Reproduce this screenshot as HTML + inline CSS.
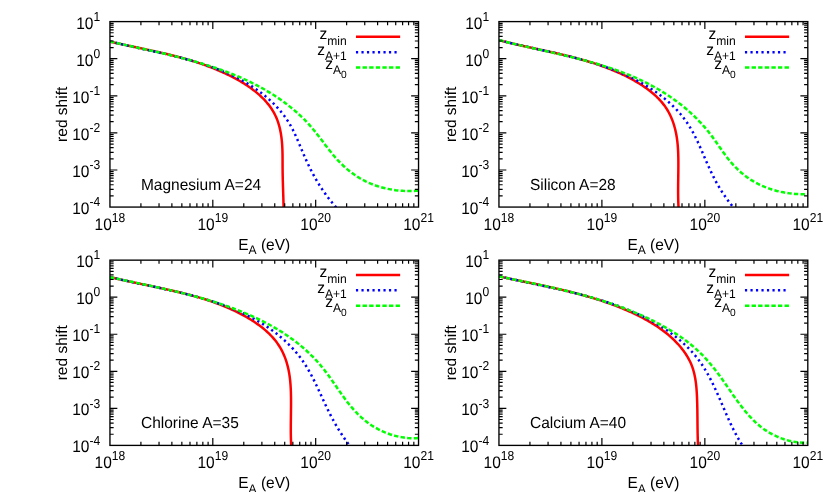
<!DOCTYPE html>
<html><head><meta charset="utf-8"><title>red shift</title>
<style>
html,body{margin:0;padding:0;background:#fff;}
svg{display:block;will-change:transform;}
text{font-family:"Liberation Sans",sans-serif;fill:#000;text-rendering:geometricPrecision;}
</style></head><body>
<svg width="834" height="492" viewBox="0 0 834 492">
<rect width="834" height="492" fill="#fff"/>
<g>
<clipPath id="clip00"><rect x="109.95" y="21.60" width="308.59" height="185.47"/></clipPath>
<g clip-path="url(#clip00)" fill="none" stroke-width="2.5">
<path d="M109.94 41.62 L111.49 41.98 L113.04 42.33 L114.59 42.67 L116.14 43.02 L117.69 43.36 L119.24 43.70 L120.79 44.03 L122.34 44.37 L123.88 44.70 L125.43 45.03 L126.98 45.36 L128.52 45.69 L130.07 46.02 L131.61 46.34 L133.16 46.67 L134.70 47.00 L136.24 47.32 L137.78 47.65 L139.32 47.97 L140.86 48.30 L142.40 48.62 L143.94 48.95 L145.48 49.27 L147.01 49.60 L148.55 49.93 L150.08 50.26 L151.62 50.60 L153.15 50.93 L154.68 51.27 L156.21 51.61 L157.74 51.95 L159.26 52.29 L160.79 52.64 L162.31 52.99 L163.84 53.35 L165.36 53.70 L166.88 54.06 L168.40 54.43 L169.92 54.80 L171.43 55.17 L172.94 55.55 L174.46 55.93 L175.97 56.32 L177.48 56.71 L178.98 57.11 L180.49 57.52 L181.99 57.92 L183.50 58.34 L185.00 58.76 L186.49 59.19 L187.99 59.62 L189.48 60.06 L190.98 60.51 L192.47 60.97 L193.96 61.43 L195.44 61.90 L196.93 62.38 L198.41 62.86 L199.89 63.36 L201.37 63.86 L202.84 64.37 L204.31 64.89 L205.78 65.42 L207.25 65.95 L208.72 66.50 L210.18 67.06 L211.64 67.62 L213.10 68.20 L214.56 68.78 L216.01 69.38 L217.46 69.99 L218.91 70.60 L220.35 71.23 L221.79 71.87 L223.23 72.52 L224.67 73.19 L226.10 73.86 L227.54 74.55 L228.96 75.25 L230.39 75.96 L231.81 76.68 L233.23 77.42 L234.65 78.16 L236.06 78.93 L237.46 79.70 L238.86 80.49 L240.25 81.29 L241.63 82.11 L243.00 82.94 L244.36 83.79 L245.71 84.65 L247.05 85.53 L248.38 86.42 L249.69 87.32 L250.99 88.25 L252.27 89.19 L253.54 90.14 L254.78 91.11 L256.01 92.10 L257.23 93.10 L258.42 94.12 L259.59 95.16 L260.74 96.22 L261.86 97.29 L262.96 98.38 L264.04 99.49 L265.10 100.62 L266.12 101.77 L267.12 102.93 L268.09 104.12 L269.04 105.32 L269.95 106.55 L270.83 107.79 L271.69 109.05 L272.50 110.34 L273.29 111.64 L274.04 112.97 L274.76 114.31 L275.44 115.68 L276.09 117.07 L276.69 118.48 L277.26 119.91 L277.79 121.36 L278.29 122.83 L278.75 124.31 L279.18 125.82 L279.58 127.34 L279.94 128.87 L280.28 130.41 L280.58 131.97 L280.86 133.53 L281.11 135.11 L281.34 136.69 L281.54 138.27 L281.72 139.86 L281.88 141.45 L282.02 143.04 L282.14 144.64 L282.24 146.23 L282.32 147.82 L282.39 149.41 L282.44 150.99 L282.48 152.57 L282.52 154.15 L282.54 155.72 L282.55 157.29 L282.56 158.86 L282.57 160.43 L282.57 162.00 L282.57 163.57 L282.58 165.13 L282.58 166.69 L282.59 168.26 L282.61 169.82 L282.63 171.38 L282.65 172.94 L282.68 174.50 L282.71 176.06 L282.74 177.62 L282.78 179.18 L282.82 180.75 L282.86 182.31 L282.91 183.87 L282.95 185.43 L283.00 187.00 L283.05 188.56 L283.10 190.13 L283.15 191.69 L283.20 193.26 L283.25 194.83 L283.30 196.40 L283.35 197.97 L283.39 199.55 L283.44 201.12 L283.48 202.70 L283.53 204.28 L283.57 205.86 L283.61 207.45 L283.64 209.03" stroke="#ff0000"/>
<path d="M110.29 41.49 L112.33 42.01 L114.38 42.51 L116.43 43.02 L118.49 43.51 L120.56 44.00 L122.63 44.49 L124.71 44.97 L126.80 45.44 L128.89 45.92 L130.99 46.39 L133.09 46.85 L135.20 47.32 L137.31 47.78 L139.42 48.25 L141.54 48.71 L143.66 49.17 L145.78 49.63 L147.91 50.10 L150.04 50.56 L152.17 51.03 L154.30 51.50 L156.44 51.97 L158.57 52.45 L160.71 52.93 L162.84 53.41 L164.98 53.90 L167.12 54.39 L169.25 54.89 L171.38 55.40 L173.52 55.91 L175.65 56.43 L177.78 56.96 L179.90 57.50 L182.03 58.05 L184.15 58.60 L186.27 59.17 L188.38 59.74 L190.49 60.33 L192.60 60.93 L194.70 61.54 L196.80 62.16 L198.89 62.80 L200.98 63.44 L203.06 64.11 L205.13 64.78 L207.20 65.47 L209.26 66.18 L211.32 66.90 L213.37 67.64 L215.40 68.40 L217.44 69.17 L219.46 69.96 L221.47 70.77 L223.48 71.60 L225.47 72.44 L227.46 73.31 L229.44 74.20 L231.40 75.11 L233.36 76.04 L235.30 76.99 L237.23 77.96 L239.15 78.96 L241.06 79.98 L242.96 81.02 L244.84 82.09 L246.72 83.18 L248.57 84.30 L250.42 85.44 L252.25 86.61 L254.06 87.80 L255.86 89.02 L257.63 90.27 L259.39 91.54 L261.13 92.84 L262.84 94.16 L264.54 95.51 L266.21 96.89 L267.85 98.30 L269.47 99.73 L271.07 101.19 L272.63 102.68 L274.17 104.19 L275.68 105.73 L277.15 107.30 L278.60 108.90 L280.01 110.52 L281.39 112.17 L282.73 113.86 L284.04 115.56 L285.31 117.30 L286.54 119.07 L287.73 120.86 L288.88 122.69 L290.00 124.54 L291.07 126.42 L292.09 128.33 L293.09 130.27 L294.05 132.22 L294.98 134.20 L295.89 136.19 L296.78 138.19 L297.65 140.21 L298.51 142.23 L299.36 144.26 L300.21 146.29 L301.05 148.31 L301.90 150.34 L302.76 152.36 L303.62 154.37 L304.49 156.38 L305.37 158.37 L306.27 160.36 L307.18 162.34 L308.10 164.31 L309.04 166.27 L309.99 168.22 L310.97 170.16 L311.96 172.09 L312.98 174.00 L314.02 175.90 L315.07 177.79 L316.15 179.67 L317.25 181.53 L318.37 183.38 L319.52 185.21 L320.69 187.04 L321.87 188.84 L323.09 190.64 L324.32 192.42 L325.58 194.18 L326.86 195.93 L328.16 197.67 L329.49 199.39 L330.85 201.09 L332.22 202.78 L333.63 204.45 L335.05 206.11 L336.51 207.75 L337.98 209.37" stroke="#0000ff" stroke-dasharray="2.2 3.3"/>
<path d="M110.17 41.59 L112.62 42.15 L115.07 42.71 L117.52 43.26 L119.98 43.81 L122.45 44.35 L124.91 44.90 L127.39 45.44 L129.86 45.99 L132.34 46.53 L134.82 47.07 L137.31 47.62 L139.80 48.16 L142.29 48.71 L144.78 49.26 L147.27 49.81 L149.77 50.37 L152.26 50.93 L154.76 51.49 L157.25 52.06 L159.75 52.63 L162.25 53.21 L164.75 53.79 L167.24 54.38 L169.74 54.98 L172.23 55.59 L174.72 56.20 L177.21 56.82 L179.70 57.45 L182.19 58.09 L184.67 58.74 L187.15 59.40 L189.63 60.07 L192.10 60.75 L194.57 61.44 L197.04 62.15 L199.50 62.87 L201.95 63.60 L204.40 64.34 L206.85 65.10 L209.29 65.87 L211.73 66.66 L214.16 67.47 L216.58 68.29 L218.99 69.12 L221.40 69.98 L223.80 70.85 L226.20 71.73 L228.58 72.64 L230.96 73.57 L233.33 74.51 L235.69 75.48 L238.04 76.46 L240.39 77.47 L242.72 78.50 L245.04 79.54 L247.35 80.62 L249.66 81.71 L251.95 82.83 L254.22 83.96 L256.49 85.13 L258.74 86.31 L260.98 87.52 L263.20 88.76 L265.41 90.01 L267.61 91.30 L269.78 92.60 L271.94 93.94 L274.09 95.29 L276.21 96.68 L278.31 98.09 L280.40 99.53 L282.47 100.99 L284.51 102.48 L286.54 104.00 L288.54 105.54 L290.52 107.11 L292.47 108.71 L294.41 110.34 L296.32 112.00 L298.20 113.69 L300.06 115.40 L301.89 117.15 L303.70 118.92 L305.48 120.73 L307.23 122.57 L308.95 124.43 L310.64 126.33 L312.31 128.26 L313.94 130.22 L315.55 132.20 L317.14 134.21 L318.71 136.24 L320.26 138.28 L321.81 140.33 L323.36 142.39 L324.91 144.44 L326.46 146.49 L328.03 148.53 L329.61 150.56 L331.21 152.57 L332.83 154.55 L334.49 156.51 L336.17 158.43 L337.90 160.32 L339.67 162.17 L341.47 163.98 L343.32 165.74 L345.21 167.45 L347.13 169.12 L349.09 170.74 L351.09 172.30 L353.14 173.81 L355.21 175.27 L357.33 176.66 L359.49 178.00 L361.68 179.27 L363.91 180.47 L366.17 181.61 L368.48 182.68 L370.81 183.69 L373.18 184.62 L375.57 185.49 L378.00 186.30 L380.45 187.04 L382.92 187.71 L385.41 188.33 L387.91 188.87 L390.44 189.36 L392.97 189.78 L395.52 190.14 L398.07 190.44 L400.64 190.68 L403.20 190.86 L405.77 190.98 L408.33 191.04 L410.90 191.04 L413.46 190.98 L416.01 190.87 L418.55 190.70" stroke="#00ff00" stroke-dasharray="4.4 2.2"/>
</g>
<path d="M140.91 207.07 v-3.70 M140.91 21.60 v3.70 M159.03 207.07 v-3.70 M159.03 21.60 v3.70 M171.88 207.07 v-3.70 M171.88 21.60 v3.70 M181.85 207.07 v-3.70 M181.85 21.60 v3.70 M189.99 207.07 v-3.70 M189.99 21.60 v3.70 M196.88 207.07 v-3.70 M196.88 21.60 v3.70 M202.84 207.07 v-3.70 M202.84 21.60 v3.70 M208.11 207.07 v-3.70 M208.11 21.60 v3.70 M212.81 207.07 v-7.40 M212.81 21.60 v7.40 M243.78 207.07 v-3.70 M243.78 21.60 v3.70 M261.89 207.07 v-3.70 M261.89 21.60 v3.70 M274.74 207.07 v-3.70 M274.74 21.60 v3.70 M284.71 207.07 v-3.70 M284.71 21.60 v3.70 M292.86 207.07 v-3.70 M292.86 21.60 v3.70 M299.74 207.07 v-3.70 M299.74 21.60 v3.70 M305.71 207.07 v-3.70 M305.71 21.60 v3.70 M310.97 207.07 v-3.70 M310.97 21.60 v3.70 M315.68 207.07 v-7.40 M315.68 21.60 v7.40 M346.64 207.07 v-3.70 M346.64 21.60 v3.70 M364.75 207.07 v-3.70 M364.75 21.60 v3.70 M377.61 207.07 v-3.70 M377.61 21.60 v3.70 M387.58 207.07 v-3.70 M387.58 21.60 v3.70 M395.72 207.07 v-3.70 M395.72 21.60 v3.70 M402.61 207.07 v-3.70 M402.61 21.60 v3.70 M408.57 207.07 v-3.70 M408.57 21.60 v3.70 M413.83 207.07 v-3.70 M413.83 21.60 v3.70 M109.95 47.53 h3.70 M418.54 47.53 h-3.70 M109.95 41.00 h3.70 M418.54 41.00 h-3.70 M109.95 36.36 h3.70 M418.54 36.36 h-3.70 M109.95 32.77 h3.70 M418.54 32.77 h-3.70 M109.95 29.83 h3.70 M418.54 29.83 h-3.70 M109.95 27.35 h3.70 M418.54 27.35 h-3.70 M109.95 25.19 h3.70 M418.54 25.19 h-3.70 M109.95 23.30 h3.70 M418.54 23.30 h-3.70 M109.95 58.69 h7.40 M418.54 58.69 h-7.40 M109.95 84.62 h3.70 M418.54 84.62 h-3.70 M109.95 78.09 h3.70 M418.54 78.09 h-3.70 M109.95 73.46 h3.70 M418.54 73.46 h-3.70 M109.95 69.86 h3.70 M418.54 69.86 h-3.70 M109.95 66.92 h3.70 M418.54 66.92 h-3.70 M109.95 64.44 h3.70 M418.54 64.44 h-3.70 M109.95 62.29 h3.70 M418.54 62.29 h-3.70 M109.95 60.39 h3.70 M418.54 60.39 h-3.70 M109.95 95.79 h7.40 M418.54 95.79 h-7.40 M109.95 121.72 h3.70 M418.54 121.72 h-3.70 M109.95 115.18 h3.70 M418.54 115.18 h-3.70 M109.95 110.55 h3.70 M418.54 110.55 h-3.70 M109.95 106.95 h3.70 M418.54 106.95 h-3.70 M109.95 104.02 h3.70 M418.54 104.02 h-3.70 M109.95 101.53 h3.70 M418.54 101.53 h-3.70 M109.95 99.38 h3.70 M418.54 99.38 h-3.70 M109.95 97.49 h3.70 M418.54 97.49 h-3.70 M109.95 132.88 h7.40 M418.54 132.88 h-7.40 M109.95 158.81 h3.70 M418.54 158.81 h-3.70 M109.95 152.28 h3.70 M418.54 152.28 h-3.70 M109.95 147.64 h3.70 M418.54 147.64 h-3.70 M109.95 144.05 h3.70 M418.54 144.05 h-3.70 M109.95 141.11 h3.70 M418.54 141.11 h-3.70 M109.95 138.63 h3.70 M418.54 138.63 h-3.70 M109.95 136.48 h3.70 M418.54 136.48 h-3.70 M109.95 134.58 h3.70 M418.54 134.58 h-3.70 M109.95 169.98 h7.40 M418.54 169.98 h-7.40 M109.95 195.90 h3.70 M418.54 195.90 h-3.70 M109.95 189.37 h3.70 M418.54 189.37 h-3.70 M109.95 184.74 h3.70 M418.54 184.74 h-3.70 M109.95 181.14 h3.70 M418.54 181.14 h-3.70 M109.95 178.21 h3.70 M418.54 178.21 h-3.70 M109.95 175.72 h3.70 M418.54 175.72 h-3.70 M109.95 173.57 h3.70 M418.54 173.57 h-3.70 M109.95 171.67 h3.70 M418.54 171.67 h-3.70" stroke="#000" stroke-width="1.2" fill="none"/>
<rect x="109.95" y="21.60" width="308.59" height="185.47" fill="none" stroke="#000" stroke-width="1.35"/>
<text transform="translate(100.15 28.50) scale(1 1.075)" font-size="15.50" text-anchor="end">10<tspan font-size="12.09" dy="-7.21">1</tspan></text>
<text transform="translate(100.15 65.59) scale(1 1.075)" font-size="15.50" text-anchor="end">10<tspan font-size="12.09" dy="-7.21">0</tspan></text>
<text transform="translate(100.15 102.69) scale(1 1.075)" font-size="15.50" text-anchor="end">10<tspan font-size="12.09" dy="-7.21">-1</tspan></text>
<text transform="translate(100.15 139.78) scale(1 1.075)" font-size="15.50" text-anchor="end">10<tspan font-size="12.09" dy="-7.21">-2</tspan></text>
<text transform="translate(100.15 176.88) scale(1 1.075)" font-size="15.50" text-anchor="end">10<tspan font-size="12.09" dy="-7.21">-3</tspan></text>
<text transform="translate(100.15 213.97) scale(1 1.075)" font-size="15.50" text-anchor="end">10<tspan font-size="12.09" dy="-7.21">-4</tspan></text>
<text transform="translate(109.95 229.77) scale(1 1.075)" font-size="15.50" text-anchor="middle">10<tspan font-size="12.09" dy="-7.21">18</tspan></text>
<text transform="translate(212.81 229.77) scale(1 1.075)" font-size="15.50" text-anchor="middle">10<tspan font-size="12.09" dy="-7.21">19</tspan></text>
<text transform="translate(315.68 229.77) scale(1 1.075)" font-size="15.50" text-anchor="middle">10<tspan font-size="12.09" dy="-7.21">20</tspan></text>
<text transform="translate(418.54 229.77) scale(1 1.075)" font-size="15.50" text-anchor="middle">10<tspan font-size="12.09" dy="-7.21">21</tspan></text>
<text transform="translate(264.25 249.87) scale(1 1.030)" font-size="15.50" text-anchor="middle">E<tspan font-size="12.09" dy="4.37">A</tspan><tspan dy="-4.37"> (eV)</tspan></text>
<text transform="translate(67.10 114.33) rotate(-90) scale(1 1.000)" font-size="15.50" text-anchor="middle">red shift</text>
<text transform="translate(140.95 189.90) scale(1 1.030)" font-size="15.50">Magnesium A=24</text>
<text transform="translate(346.75 39.20) scale(1 1.030)" font-size="15.50" text-anchor="end">z<tspan font-size="12.09" dy="5.15">min</tspan></text>
<path d="M355.95 36.70 H400.15" stroke="#ff0000" stroke-width="2.5" fill="none"/>
<text transform="translate(346.75 54.65) scale(1 1.030)" font-size="15.50" text-anchor="end">z<tspan font-size="12.09" dy="5.15">A+1</tspan></text>
<path d="M355.95 52.15 H396.95" stroke="#0000ff" stroke-width="2.5" stroke-dasharray="2.2 3.3" fill="none"/>
<text transform="translate(346.75 68.90) scale(1 1.030)" font-size="15.50" text-anchor="end">z<tspan font-size="12.09" dy="5.15">A</tspan><tspan font-size="10.23" dy="3.40">0</tspan></text>
<path d="M355.95 67.60 H400.15" stroke="#00ff00" stroke-width="2.5" stroke-dasharray="4.4 2.2" fill="none"/>
</g>
<g>
<clipPath id="clip01"><rect x="498.95" y="21.60" width="308.85" height="185.47"/></clipPath>
<g clip-path="url(#clip01)" fill="none" stroke-width="2.5">
<path d="M499.32 40.26 L500.86 40.66 L502.40 41.05 L503.94 41.45 L505.48 41.83 L507.02 42.21 L508.57 42.59 L510.12 42.96 L511.67 43.33 L513.22 43.70 L514.78 44.06 L516.33 44.42 L517.89 44.78 L519.45 45.13 L521.01 45.48 L522.57 45.83 L524.14 46.18 L525.70 46.53 L527.27 46.87 L528.83 47.21 L530.40 47.56 L531.97 47.90 L533.54 48.24 L535.11 48.58 L536.68 48.92 L538.25 49.26 L539.82 49.60 L541.39 49.94 L542.96 50.28 L544.53 50.62 L546.10 50.97 L547.67 51.31 L549.24 51.66 L550.81 52.01 L552.38 52.36 L553.95 52.71 L555.52 53.07 L557.09 53.42 L558.66 53.78 L560.23 54.15 L561.79 54.52 L563.36 54.89 L564.92 55.26 L566.48 55.64 L568.04 56.02 L569.60 56.41 L571.16 56.80 L572.72 57.20 L574.27 57.60 L575.83 58.01 L577.38 58.43 L578.93 58.84 L580.47 59.27 L582.02 59.70 L583.56 60.14 L585.10 60.58 L586.64 61.04 L588.18 61.50 L589.71 61.96 L591.24 62.44 L592.77 62.92 L594.30 63.41 L595.82 63.91 L597.34 64.41 L598.85 64.93 L600.37 65.45 L601.87 65.99 L603.38 66.53 L604.88 67.08 L606.38 67.64 L607.88 68.22 L609.37 68.80 L610.86 69.39 L612.34 70.00 L613.82 70.61 L615.30 71.24 L616.77 71.87 L618.24 72.52 L619.70 73.18 L621.16 73.86 L622.61 74.54 L624.06 75.24 L625.51 75.95 L626.95 76.67 L628.38 77.41 L629.81 78.16 L631.24 78.92 L632.65 79.70 L634.07 80.49 L635.48 81.30 L636.88 82.12 L638.27 82.95 L639.65 83.81 L641.03 84.67 L642.39 85.56 L643.73 86.45 L645.07 87.37 L646.39 88.30 L647.69 89.26 L648.98 90.22 L650.25 91.21 L651.50 92.22 L652.73 93.24 L653.94 94.29 L655.12 95.35 L656.29 96.43 L657.42 97.54 L658.54 98.66 L659.62 99.81 L660.68 100.97 L661.71 102.16 L662.71 103.37 L663.68 104.61 L664.62 105.86 L665.53 107.14 L666.40 108.44 L667.23 109.77 L668.03 111.12 L668.80 112.49 L669.53 113.88 L670.22 115.30 L670.89 116.73 L671.52 118.18 L672.11 119.65 L672.68 121.14 L673.21 122.64 L673.71 124.16 L674.18 125.68 L674.62 127.22 L675.04 128.78 L675.42 130.34 L675.77 131.91 L676.10 133.49 L676.39 135.07 L676.67 136.66 L676.91 138.26 L677.13 139.86 L677.33 141.47 L677.51 143.08 L677.66 144.70 L677.80 146.31 L677.92 147.93 L678.02 149.56 L678.11 151.18 L678.18 152.80 L678.23 154.43 L678.28 156.05 L678.32 157.68 L678.34 159.30 L678.36 160.92 L678.37 162.54 L678.37 164.16 L678.37 165.77 L678.36 167.39 L678.35 169.00 L678.34 170.61 L678.32 172.22 L678.30 173.82 L678.28 175.43 L678.25 177.03 L678.23 178.63 L678.21 180.23 L678.18 181.83 L678.16 183.43 L678.15 185.02 L678.13 186.62 L678.12 188.22 L678.11 189.81 L678.11 191.40 L678.12 193.00 L678.13 194.59 L678.15 196.18 L678.17 197.78 L678.21 199.37 L678.25 200.96 L678.30 202.55 L678.37 204.14 L678.44 205.74 L678.53 207.33 L678.63 208.92" stroke="#ff0000"/>
<path d="M499.43 40.32 L501.54 40.85 L503.65 41.37 L505.77 41.89 L507.90 42.40 L510.03 42.90 L512.17 43.40 L514.31 43.90 L516.46 44.39 L518.61 44.88 L520.77 45.37 L522.93 45.85 L525.10 46.33 L527.26 46.81 L529.44 47.29 L531.61 47.77 L533.79 48.24 L535.97 48.72 L538.15 49.20 L540.33 49.68 L542.52 50.16 L544.70 50.64 L546.89 51.13 L549.08 51.62 L551.27 52.11 L553.46 52.61 L555.65 53.11 L557.83 53.62 L560.02 54.13 L562.21 54.64 L564.39 55.17 L566.58 55.70 L568.76 56.24 L570.94 56.78 L573.12 57.33 L575.29 57.90 L577.47 58.47 L579.63 59.05 L581.80 59.64 L583.96 60.24 L586.12 60.85 L588.27 61.47 L590.42 62.11 L592.57 62.76 L594.71 63.42 L596.84 64.09 L598.97 64.78 L601.09 65.48 L603.20 66.19 L605.31 66.92 L607.42 67.67 L609.51 68.43 L611.60 69.21 L613.68 70.01 L615.75 70.82 L617.82 71.65 L619.87 72.50 L621.92 73.37 L623.96 74.26 L625.98 75.17 L628.00 76.10 L630.01 77.04 L632.01 78.01 L634.00 79.01 L635.98 80.02 L637.94 81.05 L639.90 82.11 L641.84 83.20 L643.77 84.30 L645.69 85.43 L647.60 86.59 L649.50 87.77 L651.38 88.97 L653.24 90.20 L655.09 91.46 L656.92 92.74 L658.73 94.05 L660.52 95.39 L662.29 96.75 L664.03 98.13 L665.76 99.55 L667.45 100.99 L669.13 102.46 L670.77 103.95 L672.39 105.47 L673.98 107.02 L675.53 108.60 L677.06 110.20 L678.55 111.83 L680.01 113.49 L681.44 115.18 L682.82 116.90 L684.17 118.64 L685.48 120.41 L686.76 122.21 L687.99 124.05 L689.18 125.90 L690.33 127.79 L691.45 129.70 L692.54 131.63 L693.60 133.58 L694.63 135.55 L695.63 137.54 L696.61 139.55 L697.58 141.57 L698.52 143.60 L699.45 145.64 L700.37 147.69 L701.27 149.75 L702.17 151.82 L703.06 153.88 L703.96 155.95 L704.85 158.02 L705.74 160.09 L706.63 162.16 L707.54 164.22 L708.45 166.27 L709.38 168.32 L710.31 170.35 L711.27 172.37 L712.25 174.38 L713.24 176.38 L714.26 178.36 L715.29 180.33 L716.35 182.28 L717.43 184.22 L718.54 186.14 L719.67 188.05 L720.83 189.94 L722.01 191.82 L723.22 193.68 L724.46 195.52 L725.72 197.35 L727.02 199.16 L728.34 200.95 L729.69 202.73 L731.08 204.49 L732.50 206.23 L733.95 207.95 L735.44 209.65" stroke="#0000ff" stroke-dasharray="2.2 3.3"/>
<path d="M499.48 40.21 L501.90 40.84 L504.33 41.46 L506.77 42.07 L509.21 42.67 L511.67 43.27 L514.13 43.86 L516.59 44.45 L519.06 45.03 L521.54 45.60 L524.02 46.18 L526.51 46.75 L529.01 47.31 L531.50 47.88 L534.00 48.44 L536.51 49.00 L539.02 49.56 L541.53 50.13 L544.04 50.69 L546.55 51.26 L549.07 51.82 L551.59 52.39 L554.11 52.97 L556.63 53.54 L559.15 54.13 L561.67 54.71 L564.19 55.31 L566.71 55.91 L569.22 56.51 L571.74 57.13 L574.25 57.75 L576.77 58.38 L579.28 59.02 L581.78 59.67 L584.28 60.33 L586.78 61.00 L589.28 61.68 L591.77 62.38 L594.26 63.09 L596.74 63.81 L599.21 64.55 L601.68 65.30 L604.15 66.07 L606.60 66.85 L609.05 67.65 L611.50 68.46 L613.93 69.30 L616.36 70.15 L618.78 71.02 L621.19 71.91 L623.59 72.82 L625.98 73.75 L628.36 74.70 L630.73 75.68 L633.09 76.68 L635.44 77.70 L637.78 78.74 L640.11 79.81 L642.42 80.90 L644.72 82.02 L647.01 83.16 L649.29 84.33 L651.55 85.53 L653.80 86.76 L656.04 88.01 L658.25 89.28 L660.46 90.58 L662.64 91.91 L664.81 93.27 L666.96 94.65 L669.09 96.07 L671.21 97.50 L673.30 98.97 L675.38 100.46 L677.43 101.98 L679.46 103.52 L681.48 105.10 L683.47 106.70 L685.43 108.33 L687.38 109.99 L689.30 111.67 L691.19 113.38 L693.06 115.12 L694.91 116.89 L696.73 118.69 L698.52 120.51 L700.29 122.36 L702.03 124.24 L703.74 126.15 L705.42 128.09 L707.07 130.05 L708.69 132.05 L710.28 134.07 L711.85 136.12 L713.38 138.20 L714.89 140.30 L716.38 142.42 L717.86 144.54 L719.33 146.67 L720.81 148.80 L722.30 150.92 L723.80 153.02 L725.32 155.11 L726.87 157.17 L728.45 159.20 L730.08 161.19 L731.74 163.15 L733.45 165.05 L735.21 166.91 L737.01 168.73 L738.86 170.49 L740.75 172.19 L742.69 173.84 L744.68 175.43 L746.72 176.97 L748.81 178.43 L750.95 179.83 L753.13 181.17 L755.36 182.44 L757.63 183.65 L759.93 184.78 L762.27 185.86 L764.65 186.87 L767.05 187.81 L769.49 188.69 L771.94 189.50 L774.43 190.25 L776.93 190.93 L779.44 191.55 L781.97 192.10 L784.52 192.59 L787.07 193.01 L789.63 193.37 L792.19 193.66 L794.75 193.89 L797.31 194.05 L799.87 194.15 L802.42 194.18 L804.96 194.15 L807.48 194.05" stroke="#00ff00" stroke-dasharray="4.4 2.2"/>
</g>
<path d="M529.94 207.07 v-3.70 M529.94 21.60 v3.70 M548.07 207.07 v-3.70 M548.07 21.60 v3.70 M560.93 207.07 v-3.70 M560.93 21.60 v3.70 M570.91 207.07 v-3.70 M570.91 21.60 v3.70 M579.06 207.07 v-3.70 M579.06 21.60 v3.70 M585.95 207.07 v-3.70 M585.95 21.60 v3.70 M591.92 207.07 v-3.70 M591.92 21.60 v3.70 M597.19 207.07 v-3.70 M597.19 21.60 v3.70 M601.90 207.07 v-7.40 M601.90 21.60 v7.40 M632.89 207.07 v-3.70 M632.89 21.60 v3.70 M651.02 207.07 v-3.70 M651.02 21.60 v3.70 M663.88 207.07 v-3.70 M663.88 21.60 v3.70 M673.86 207.07 v-3.70 M673.86 21.60 v3.70 M682.01 207.07 v-3.70 M682.01 21.60 v3.70 M688.90 207.07 v-3.70 M688.90 21.60 v3.70 M694.87 207.07 v-3.70 M694.87 21.60 v3.70 M700.14 207.07 v-3.70 M700.14 21.60 v3.70 M704.85 207.07 v-7.40 M704.85 21.60 v7.40 M735.84 207.07 v-3.70 M735.84 21.60 v3.70 M753.97 207.07 v-3.70 M753.97 21.60 v3.70 M766.83 207.07 v-3.70 M766.83 21.60 v3.70 M776.81 207.07 v-3.70 M776.81 21.60 v3.70 M784.96 207.07 v-3.70 M784.96 21.60 v3.70 M791.85 207.07 v-3.70 M791.85 21.60 v3.70 M797.82 207.07 v-3.70 M797.82 21.60 v3.70 M803.09 207.07 v-3.70 M803.09 21.60 v3.70 M498.95 47.53 h3.70 M807.80 47.53 h-3.70 M498.95 41.00 h3.70 M807.80 41.00 h-3.70 M498.95 36.36 h3.70 M807.80 36.36 h-3.70 M498.95 32.77 h3.70 M807.80 32.77 h-3.70 M498.95 29.83 h3.70 M807.80 29.83 h-3.70 M498.95 27.35 h3.70 M807.80 27.35 h-3.70 M498.95 25.19 h3.70 M807.80 25.19 h-3.70 M498.95 23.30 h3.70 M807.80 23.30 h-3.70 M498.95 58.69 h7.40 M807.80 58.69 h-7.40 M498.95 84.62 h3.70 M807.80 84.62 h-3.70 M498.95 78.09 h3.70 M807.80 78.09 h-3.70 M498.95 73.46 h3.70 M807.80 73.46 h-3.70 M498.95 69.86 h3.70 M807.80 69.86 h-3.70 M498.95 66.92 h3.70 M807.80 66.92 h-3.70 M498.95 64.44 h3.70 M807.80 64.44 h-3.70 M498.95 62.29 h3.70 M807.80 62.29 h-3.70 M498.95 60.39 h3.70 M807.80 60.39 h-3.70 M498.95 95.79 h7.40 M807.80 95.79 h-7.40 M498.95 121.72 h3.70 M807.80 121.72 h-3.70 M498.95 115.18 h3.70 M807.80 115.18 h-3.70 M498.95 110.55 h3.70 M807.80 110.55 h-3.70 M498.95 106.95 h3.70 M807.80 106.95 h-3.70 M498.95 104.02 h3.70 M807.80 104.02 h-3.70 M498.95 101.53 h3.70 M807.80 101.53 h-3.70 M498.95 99.38 h3.70 M807.80 99.38 h-3.70 M498.95 97.49 h3.70 M807.80 97.49 h-3.70 M498.95 132.88 h7.40 M807.80 132.88 h-7.40 M498.95 158.81 h3.70 M807.80 158.81 h-3.70 M498.95 152.28 h3.70 M807.80 152.28 h-3.70 M498.95 147.64 h3.70 M807.80 147.64 h-3.70 M498.95 144.05 h3.70 M807.80 144.05 h-3.70 M498.95 141.11 h3.70 M807.80 141.11 h-3.70 M498.95 138.63 h3.70 M807.80 138.63 h-3.70 M498.95 136.48 h3.70 M807.80 136.48 h-3.70 M498.95 134.58 h3.70 M807.80 134.58 h-3.70 M498.95 169.98 h7.40 M807.80 169.98 h-7.40 M498.95 195.90 h3.70 M807.80 195.90 h-3.70 M498.95 189.37 h3.70 M807.80 189.37 h-3.70 M498.95 184.74 h3.70 M807.80 184.74 h-3.70 M498.95 181.14 h3.70 M807.80 181.14 h-3.70 M498.95 178.21 h3.70 M807.80 178.21 h-3.70 M498.95 175.72 h3.70 M807.80 175.72 h-3.70 M498.95 173.57 h3.70 M807.80 173.57 h-3.70 M498.95 171.67 h3.70 M807.80 171.67 h-3.70" stroke="#000" stroke-width="1.2" fill="none"/>
<rect x="498.95" y="21.60" width="308.85" height="185.47" fill="none" stroke="#000" stroke-width="1.35"/>
<text transform="translate(489.15 28.50) scale(1 1.075)" font-size="15.50" text-anchor="end">10<tspan font-size="12.09" dy="-7.21">1</tspan></text>
<text transform="translate(489.15 65.59) scale(1 1.075)" font-size="15.50" text-anchor="end">10<tspan font-size="12.09" dy="-7.21">0</tspan></text>
<text transform="translate(489.15 102.69) scale(1 1.075)" font-size="15.50" text-anchor="end">10<tspan font-size="12.09" dy="-7.21">-1</tspan></text>
<text transform="translate(489.15 139.78) scale(1 1.075)" font-size="15.50" text-anchor="end">10<tspan font-size="12.09" dy="-7.21">-2</tspan></text>
<text transform="translate(489.15 176.88) scale(1 1.075)" font-size="15.50" text-anchor="end">10<tspan font-size="12.09" dy="-7.21">-3</tspan></text>
<text transform="translate(489.15 213.97) scale(1 1.075)" font-size="15.50" text-anchor="end">10<tspan font-size="12.09" dy="-7.21">-4</tspan></text>
<text transform="translate(498.95 229.77) scale(1 1.075)" font-size="15.50" text-anchor="middle">10<tspan font-size="12.09" dy="-7.21">18</tspan></text>
<text transform="translate(601.90 229.77) scale(1 1.075)" font-size="15.50" text-anchor="middle">10<tspan font-size="12.09" dy="-7.21">19</tspan></text>
<text transform="translate(704.85 229.77) scale(1 1.075)" font-size="15.50" text-anchor="middle">10<tspan font-size="12.09" dy="-7.21">20</tspan></text>
<text transform="translate(807.80 229.77) scale(1 1.075)" font-size="15.50" text-anchor="middle">10<tspan font-size="12.09" dy="-7.21">21</tspan></text>
<text transform="translate(653.38 249.87) scale(1 1.030)" font-size="15.50" text-anchor="middle">E<tspan font-size="12.09" dy="4.37">A</tspan><tspan dy="-4.37"> (eV)</tspan></text>
<text transform="translate(456.10 114.33) rotate(-90) scale(1 1.000)" font-size="15.50" text-anchor="middle">red shift</text>
<text transform="translate(529.95 189.90) scale(1 1.030)" font-size="15.50">Silicon A=28</text>
<text transform="translate(735.75 39.20) scale(1 1.030)" font-size="15.50" text-anchor="end">z<tspan font-size="12.09" dy="5.15">min</tspan></text>
<path d="M744.95 36.70 H789.15" stroke="#ff0000" stroke-width="2.5" fill="none"/>
<text transform="translate(735.75 54.65) scale(1 1.030)" font-size="15.50" text-anchor="end">z<tspan font-size="12.09" dy="5.15">A+1</tspan></text>
<path d="M744.95 52.15 H785.95" stroke="#0000ff" stroke-width="2.5" stroke-dasharray="2.2 3.3" fill="none"/>
<text transform="translate(735.75 68.90) scale(1 1.030)" font-size="15.50" text-anchor="end">z<tspan font-size="12.09" dy="5.15">A</tspan><tspan font-size="10.23" dy="3.40">0</tspan></text>
<path d="M744.95 67.60 H789.15" stroke="#00ff00" stroke-width="2.5" stroke-dasharray="4.4 2.2" fill="none"/>
</g>
<g>
<clipPath id="clip10"><rect x="109.95" y="260.15" width="308.59" height="185.25"/></clipPath>
<g clip-path="url(#clip10)" fill="none" stroke-width="2.5">
<path d="M110.12 277.04 L111.68 277.43 L113.24 277.81 L114.81 278.20 L116.38 278.57 L117.95 278.94 L119.52 279.31 L121.09 279.67 L122.67 280.03 L124.25 280.39 L125.83 280.74 L127.41 281.09 L128.99 281.44 L130.58 281.78 L132.17 282.13 L133.75 282.47 L135.34 282.80 L136.93 283.14 L138.52 283.47 L140.11 283.81 L141.71 284.14 L143.30 284.47 L144.89 284.80 L146.49 285.13 L148.08 285.46 L149.68 285.79 L151.27 286.13 L152.87 286.46 L154.46 286.79 L156.06 287.12 L157.65 287.46 L159.25 287.80 L160.84 288.14 L162.44 288.48 L164.03 288.82 L165.62 289.16 L167.22 289.51 L168.81 289.86 L170.40 290.22 L171.99 290.58 L173.58 290.94 L175.17 291.30 L176.75 291.67 L178.34 292.05 L179.92 292.43 L181.50 292.81 L183.08 293.20 L184.66 293.59 L186.24 293.99 L187.82 294.40 L189.39 294.81 L190.96 295.23 L192.53 295.65 L194.10 296.09 L195.66 296.52 L197.22 296.97 L198.78 297.42 L200.34 297.88 L201.89 298.35 L203.44 298.83 L204.99 299.31 L206.54 299.81 L208.08 300.31 L209.62 300.82 L211.16 301.34 L212.69 301.87 L214.22 302.41 L215.74 302.96 L217.27 303.52 L218.79 304.10 L220.30 304.68 L221.81 305.27 L223.32 305.87 L224.82 306.49 L226.32 307.12 L227.81 307.76 L229.30 308.41 L230.79 309.07 L232.27 309.75 L233.74 310.44 L235.22 311.14 L236.68 311.86 L238.14 312.59 L239.60 313.33 L241.05 314.09 L242.50 314.86 L243.94 315.64 L245.37 316.44 L246.80 317.26 L248.22 318.09 L249.64 318.94 L251.04 319.80 L252.43 320.68 L253.81 321.57 L255.18 322.48 L256.54 323.41 L257.88 324.36 L259.20 325.32 L260.51 326.30 L261.80 327.30 L263.07 328.32 L264.32 329.36 L265.56 330.41 L266.76 331.49 L267.95 332.58 L269.11 333.70 L270.25 334.83 L271.36 335.99 L272.45 337.16 L273.51 338.36 L274.54 339.58 L275.54 340.82 L276.50 342.08 L277.44 343.36 L278.34 344.67 L279.21 345.99 L280.05 347.34 L280.85 348.72 L281.61 350.12 L282.34 351.53 L283.03 352.97 L283.69 354.43 L284.32 355.91 L284.91 357.40 L285.47 358.91 L286.00 360.43 L286.49 361.97 L286.96 363.52 L287.39 365.09 L287.80 366.66 L288.17 368.25 L288.52 369.84 L288.84 371.44 L289.13 373.05 L289.39 374.66 L289.63 376.28 L289.85 377.91 L290.04 379.54 L290.21 381.18 L290.36 382.81 L290.49 384.45 L290.61 386.10 L290.70 387.74 L290.78 389.39 L290.85 391.04 L290.91 392.69 L290.95 394.34 L290.98 395.98 L291.01 397.63 L291.02 399.27 L291.03 400.91 L291.03 402.55 L291.03 404.19 L291.03 405.83 L291.01 407.46 L291.00 409.09 L290.98 410.72 L290.96 412.35 L290.94 413.98 L290.92 415.60 L290.90 417.22 L290.88 418.85 L290.86 420.47 L290.84 422.09 L290.83 423.70 L290.81 425.32 L290.81 426.94 L290.80 428.55 L290.80 430.17 L290.81 431.78 L290.82 433.40 L290.84 435.01 L290.87 436.62 L290.91 438.24 L290.96 439.85 L291.01 441.46 L291.08 443.08 L291.16 444.69 L291.24 446.30 L291.35 447.92" stroke="#ff0000"/>
<path d="M110.34 277.03 L112.46 277.56 L114.60 278.09 L116.74 278.60 L118.90 279.12 L121.05 279.62 L123.22 280.12 L125.39 280.61 L127.57 281.10 L129.76 281.59 L131.95 282.07 L134.15 282.55 L136.35 283.03 L138.55 283.50 L140.76 283.98 L142.98 284.45 L145.20 284.92 L147.42 285.39 L149.65 285.86 L151.87 286.34 L154.10 286.81 L156.34 287.29 L158.57 287.77 L160.81 288.25 L163.04 288.73 L165.28 289.22 L167.52 289.71 L169.76 290.21 L172.00 290.72 L174.23 291.23 L176.47 291.74 L178.71 292.26 L180.94 292.79 L183.17 293.33 L185.40 293.88 L187.63 294.43 L189.86 295.00 L192.08 295.57 L194.30 296.15 L196.51 296.75 L198.72 297.35 L200.93 297.97 L203.13 298.60 L205.33 299.25 L207.52 299.90 L209.70 300.57 L211.88 301.26 L214.06 301.95 L216.22 302.67 L218.38 303.40 L220.53 304.14 L222.68 304.91 L224.82 305.69 L226.94 306.48 L229.06 307.30 L231.17 308.13 L233.27 308.99 L235.36 309.86 L237.45 310.75 L239.52 311.67 L241.58 312.60 L243.63 313.56 L245.66 314.54 L247.69 315.54 L249.70 316.56 L251.71 317.61 L253.70 318.68 L255.67 319.78 L257.64 320.90 L259.59 322.05 L261.52 323.22 L263.44 324.42 L265.35 325.64 L267.24 326.90 L269.12 328.18 L270.97 329.48 L272.81 330.82 L274.63 332.18 L276.43 333.57 L278.20 334.98 L279.96 336.42 L281.69 337.89 L283.40 339.38 L285.08 340.90 L286.73 342.45 L288.36 344.03 L289.96 345.63 L291.53 347.25 L293.07 348.91 L294.58 350.59 L296.06 352.30 L297.50 354.03 L298.91 355.79 L300.29 357.58 L301.63 359.39 L302.93 361.23 L304.19 363.10 L305.42 364.99 L306.62 366.91 L307.79 368.84 L308.92 370.80 L310.03 372.78 L311.12 374.77 L312.18 376.78 L313.22 378.80 L314.24 380.84 L315.25 382.89 L316.24 384.94 L317.22 387.01 L318.19 389.08 L319.16 391.16 L320.12 393.24 L321.07 395.32 L322.03 397.40 L322.98 399.48 L323.94 401.56 L324.91 403.64 L325.88 405.71 L326.86 407.77 L327.86 409.82 L328.87 411.86 L329.89 413.89 L330.93 415.91 L331.99 417.92 L333.07 419.92 L334.16 421.90 L335.27 423.87 L336.41 425.83 L337.56 427.78 L338.73 429.71 L339.93 431.64 L341.15 433.54 L342.39 435.44 L343.66 437.32 L344.95 439.19 L346.26 441.04 L347.60 442.88 L348.97 444.70 L350.37 446.51 L351.79 448.30" stroke="#0000ff" stroke-dasharray="2.2 3.3"/>
<path d="M110.14 277.18 L112.64 277.73 L115.15 278.28 L117.66 278.83 L120.17 279.37 L122.69 279.91 L125.21 280.45 L127.74 280.99 L130.27 281.52 L132.80 282.06 L135.33 282.60 L137.87 283.13 L140.40 283.67 L142.94 284.21 L145.48 284.75 L148.03 285.30 L150.57 285.84 L153.12 286.39 L155.66 286.94 L158.21 287.50 L160.75 288.06 L163.30 288.63 L165.84 289.20 L168.39 289.78 L170.93 290.37 L173.47 290.96 L176.01 291.56 L178.55 292.17 L181.09 292.78 L183.62 293.41 L186.15 294.04 L188.68 294.69 L191.21 295.34 L193.73 296.01 L196.25 296.68 L198.77 297.37 L201.28 298.07 L203.79 298.78 L206.29 299.51 L208.79 300.25 L211.28 301.00 L213.77 301.77 L216.26 302.55 L218.73 303.35 L221.21 304.16 L223.67 304.99 L226.13 305.84 L228.58 306.71 L231.03 307.59 L233.46 308.49 L235.89 309.41 L238.32 310.35 L240.73 311.30 L243.14 312.28 L245.53 313.28 L247.92 314.30 L250.30 315.34 L252.67 316.41 L255.04 317.49 L257.39 318.60 L259.73 319.73 L262.06 320.89 L264.38 322.07 L266.68 323.27 L268.98 324.50 L271.25 325.75 L273.52 327.03 L275.76 328.34 L278.00 329.67 L280.21 331.03 L282.40 332.41 L284.58 333.82 L286.74 335.26 L288.87 336.72 L290.99 338.22 L293.08 339.74 L295.15 341.29 L297.20 342.87 L299.22 344.48 L301.22 346.12 L303.19 347.79 L305.14 349.49 L307.06 351.22 L308.95 352.99 L310.81 354.78 L312.64 356.61 L314.44 358.46 L316.21 360.36 L317.95 362.28 L319.65 364.24 L321.32 366.23 L322.96 368.25 L324.57 370.30 L326.15 372.38 L327.71 374.48 L329.25 376.59 L330.77 378.73 L332.29 380.87 L333.79 383.02 L335.29 385.18 L336.78 387.33 L338.28 389.49 L339.78 391.63 L341.29 393.77 L342.82 395.89 L344.35 398.00 L345.91 400.08 L347.49 402.15 L349.09 404.18 L350.72 406.18 L352.39 408.15 L354.09 410.08 L355.83 411.97 L357.61 413.81 L359.44 415.60 L361.31 417.34 L363.24 419.03 L365.21 420.66 L367.24 422.23 L369.30 423.74 L371.42 425.19 L373.58 426.57 L375.78 427.88 L378.03 429.13 L380.31 430.30 L382.64 431.41 L385.01 432.43 L387.42 433.39 L389.86 434.26 L392.35 435.05 L394.87 435.76 L397.42 436.38 L400.01 436.91 L402.64 437.36 L405.30 437.72 L407.99 437.98 L410.71 438.14 L413.46 438.21 L416.24 438.19 L419.05 438.06" stroke="#00ff00" stroke-dasharray="4.4 2.2"/>
</g>
<path d="M140.91 445.40 v-3.70 M140.91 260.15 v3.70 M159.03 445.40 v-3.70 M159.03 260.15 v3.70 M171.88 445.40 v-3.70 M171.88 260.15 v3.70 M181.85 445.40 v-3.70 M181.85 260.15 v3.70 M189.99 445.40 v-3.70 M189.99 260.15 v3.70 M196.88 445.40 v-3.70 M196.88 260.15 v3.70 M202.84 445.40 v-3.70 M202.84 260.15 v3.70 M208.11 445.40 v-3.70 M208.11 260.15 v3.70 M212.81 445.40 v-7.40 M212.81 260.15 v7.40 M243.78 445.40 v-3.70 M243.78 260.15 v3.70 M261.89 445.40 v-3.70 M261.89 260.15 v3.70 M274.74 445.40 v-3.70 M274.74 260.15 v3.70 M284.71 445.40 v-3.70 M284.71 260.15 v3.70 M292.86 445.40 v-3.70 M292.86 260.15 v3.70 M299.74 445.40 v-3.70 M299.74 260.15 v3.70 M305.71 445.40 v-3.70 M305.71 260.15 v3.70 M310.97 445.40 v-3.70 M310.97 260.15 v3.70 M315.68 445.40 v-7.40 M315.68 260.15 v7.40 M346.64 445.40 v-3.70 M346.64 260.15 v3.70 M364.75 445.40 v-3.70 M364.75 260.15 v3.70 M377.61 445.40 v-3.70 M377.61 260.15 v3.70 M387.58 445.40 v-3.70 M387.58 260.15 v3.70 M395.72 445.40 v-3.70 M395.72 260.15 v3.70 M402.61 445.40 v-3.70 M402.61 260.15 v3.70 M408.57 445.40 v-3.70 M408.57 260.15 v3.70 M413.83 445.40 v-3.70 M413.83 260.15 v3.70 M109.95 286.05 h3.70 M418.54 286.05 h-3.70 M109.95 279.52 h3.70 M418.54 279.52 h-3.70 M109.95 274.89 h3.70 M418.54 274.89 h-3.70 M109.95 271.30 h3.70 M418.54 271.30 h-3.70 M109.95 268.37 h3.70 M418.54 268.37 h-3.70 M109.95 265.89 h3.70 M418.54 265.89 h-3.70 M109.95 263.74 h3.70 M418.54 263.74 h-3.70 M109.95 261.85 h3.70 M418.54 261.85 h-3.70 M109.95 297.20 h7.40 M418.54 297.20 h-7.40 M109.95 323.10 h3.70 M418.54 323.10 h-3.70 M109.95 316.57 h3.70 M418.54 316.57 h-3.70 M109.95 311.94 h3.70 M418.54 311.94 h-3.70 M109.95 308.35 h3.70 M418.54 308.35 h-3.70 M109.95 305.42 h3.70 M418.54 305.42 h-3.70 M109.95 302.94 h3.70 M418.54 302.94 h-3.70 M109.95 300.79 h3.70 M418.54 300.79 h-3.70 M109.95 298.90 h3.70 M418.54 298.90 h-3.70 M109.95 334.25 h7.40 M418.54 334.25 h-7.40 M109.95 360.15 h3.70 M418.54 360.15 h-3.70 M109.95 353.62 h3.70 M418.54 353.62 h-3.70 M109.95 348.99 h3.70 M418.54 348.99 h-3.70 M109.95 345.40 h3.70 M418.54 345.40 h-3.70 M109.95 342.47 h3.70 M418.54 342.47 h-3.70 M109.95 339.99 h3.70 M418.54 339.99 h-3.70 M109.95 337.84 h3.70 M418.54 337.84 h-3.70 M109.95 335.95 h3.70 M418.54 335.95 h-3.70 M109.95 371.30 h7.40 M418.54 371.30 h-7.40 M109.95 397.20 h3.70 M418.54 397.20 h-3.70 M109.95 390.67 h3.70 M418.54 390.67 h-3.70 M109.95 386.04 h3.70 M418.54 386.04 h-3.70 M109.95 382.45 h3.70 M418.54 382.45 h-3.70 M109.95 379.52 h3.70 M418.54 379.52 h-3.70 M109.95 377.04 h3.70 M418.54 377.04 h-3.70 M109.95 374.89 h3.70 M418.54 374.89 h-3.70 M109.95 373.00 h3.70 M418.54 373.00 h-3.70 M109.95 408.35 h7.40 M418.54 408.35 h-7.40 M109.95 434.25 h3.70 M418.54 434.25 h-3.70 M109.95 427.72 h3.70 M418.54 427.72 h-3.70 M109.95 423.09 h3.70 M418.54 423.09 h-3.70 M109.95 419.50 h3.70 M418.54 419.50 h-3.70 M109.95 416.57 h3.70 M418.54 416.57 h-3.70 M109.95 414.09 h3.70 M418.54 414.09 h-3.70 M109.95 411.94 h3.70 M418.54 411.94 h-3.70 M109.95 410.05 h3.70 M418.54 410.05 h-3.70" stroke="#000" stroke-width="1.2" fill="none"/>
<rect x="109.95" y="260.15" width="308.59" height="185.25" fill="none" stroke="#000" stroke-width="1.35"/>
<text transform="translate(100.15 267.05) scale(1 1.075)" font-size="15.50" text-anchor="end">10<tspan font-size="12.09" dy="-7.21">1</tspan></text>
<text transform="translate(100.15 304.10) scale(1 1.075)" font-size="15.50" text-anchor="end">10<tspan font-size="12.09" dy="-7.21">0</tspan></text>
<text transform="translate(100.15 341.15) scale(1 1.075)" font-size="15.50" text-anchor="end">10<tspan font-size="12.09" dy="-7.21">-1</tspan></text>
<text transform="translate(100.15 378.20) scale(1 1.075)" font-size="15.50" text-anchor="end">10<tspan font-size="12.09" dy="-7.21">-2</tspan></text>
<text transform="translate(100.15 415.25) scale(1 1.075)" font-size="15.50" text-anchor="end">10<tspan font-size="12.09" dy="-7.21">-3</tspan></text>
<text transform="translate(100.15 452.30) scale(1 1.075)" font-size="15.50" text-anchor="end">10<tspan font-size="12.09" dy="-7.21">-4</tspan></text>
<text transform="translate(109.95 468.10) scale(1 1.075)" font-size="15.50" text-anchor="middle">10<tspan font-size="12.09" dy="-7.21">18</tspan></text>
<text transform="translate(212.81 468.10) scale(1 1.075)" font-size="15.50" text-anchor="middle">10<tspan font-size="12.09" dy="-7.21">19</tspan></text>
<text transform="translate(315.68 468.10) scale(1 1.075)" font-size="15.50" text-anchor="middle">10<tspan font-size="12.09" dy="-7.21">20</tspan></text>
<text transform="translate(418.54 468.10) scale(1 1.075)" font-size="15.50" text-anchor="middle">10<tspan font-size="12.09" dy="-7.21">21</tspan></text>
<text transform="translate(264.25 488.20) scale(1 1.030)" font-size="15.50" text-anchor="middle">E<tspan font-size="12.09" dy="4.37">A</tspan><tspan dy="-4.37"> (eV)</tspan></text>
<text transform="translate(67.10 352.77) rotate(-90) scale(1 1.000)" font-size="15.50" text-anchor="middle">red shift</text>
<text transform="translate(140.95 428.15) scale(1 1.030)" font-size="15.50">Chlorine A=35</text>
<text transform="translate(346.75 277.40) scale(1 1.030)" font-size="15.50" text-anchor="end">z<tspan font-size="12.09" dy="5.15">min</tspan></text>
<path d="M355.95 274.90 H400.15" stroke="#ff0000" stroke-width="2.5" fill="none"/>
<text transform="translate(346.75 292.85) scale(1 1.030)" font-size="15.50" text-anchor="end">z<tspan font-size="12.09" dy="5.15">A+1</tspan></text>
<path d="M355.95 290.35 H396.95" stroke="#0000ff" stroke-width="2.5" stroke-dasharray="2.2 3.3" fill="none"/>
<text transform="translate(346.75 307.10) scale(1 1.030)" font-size="15.50" text-anchor="end">z<tspan font-size="12.09" dy="5.15">A</tspan><tspan font-size="10.23" dy="3.40">0</tspan></text>
<path d="M355.95 305.80 H400.15" stroke="#00ff00" stroke-width="2.5" stroke-dasharray="4.4 2.2" fill="none"/>
</g>
<g>
<clipPath id="clip11"><rect x="498.95" y="260.15" width="308.85" height="185.25"/></clipPath>
<g clip-path="url(#clip11)" fill="none" stroke-width="2.5">
<path d="M499.16 276.43 L500.82 276.79 L502.48 277.15 L504.15 277.51 L505.81 277.86 L507.47 278.21 L509.13 278.57 L510.79 278.92 L512.46 279.26 L514.12 279.61 L515.78 279.96 L517.44 280.30 L519.10 280.65 L520.77 280.99 L522.43 281.33 L524.09 281.68 L525.75 282.02 L527.41 282.36 L529.07 282.71 L530.73 283.05 L532.39 283.39 L534.05 283.74 L535.71 284.09 L537.37 284.43 L539.03 284.78 L540.68 285.13 L542.34 285.48 L544.00 285.84 L545.65 286.19 L547.30 286.55 L548.96 286.91 L550.61 287.27 L552.26 287.63 L553.91 288.00 L555.56 288.37 L557.21 288.75 L558.85 289.12 L560.50 289.50 L562.14 289.89 L563.79 290.28 L565.43 290.67 L567.07 291.06 L568.71 291.46 L570.35 291.87 L571.98 292.28 L573.62 292.69 L575.25 293.11 L576.88 293.53 L578.51 293.96 L580.14 294.40 L581.76 294.84 L583.39 295.29 L585.01 295.74 L586.63 296.20 L588.25 296.66 L589.86 297.13 L591.48 297.61 L593.09 298.10 L594.70 298.59 L596.31 299.09 L597.92 299.60 L599.52 300.11 L601.12 300.63 L602.72 301.16 L604.32 301.70 L605.91 302.25 L607.50 302.80 L609.09 303.36 L610.68 303.93 L612.26 304.51 L613.84 305.10 L615.42 305.70 L617.00 306.31 L618.57 306.93 L620.14 307.56 L621.71 308.19 L623.27 308.84 L624.83 309.50 L626.39 310.17 L627.95 310.84 L629.50 311.53 L631.05 312.23 L632.59 312.94 L634.14 313.67 L635.67 314.40 L637.21 315.15 L638.74 315.90 L640.26 316.67 L641.78 317.46 L643.29 318.25 L644.79 319.06 L646.29 319.89 L647.78 320.72 L649.26 321.57 L650.72 322.44 L652.18 323.32 L653.63 324.22 L655.07 325.13 L656.49 326.06 L657.91 327.00 L659.31 327.96 L660.69 328.93 L662.06 329.93 L663.42 330.94 L664.76 331.96 L666.09 333.01 L667.40 334.07 L668.69 335.16 L669.96 336.26 L671.22 337.38 L672.46 338.52 L673.68 339.68 L674.87 340.85 L676.05 342.05 L677.21 343.27 L678.34 344.51 L679.46 345.78 L680.55 347.06 L681.61 348.36 L682.65 349.69 L683.66 351.04 L684.64 352.40 L685.59 353.79 L686.50 355.20 L687.38 356.63 L688.22 358.07 L689.01 359.54 L689.77 361.03 L690.49 362.54 L691.16 364.06 L691.78 365.61 L692.36 367.17 L692.89 368.75 L693.38 370.35 L693.82 371.96 L694.23 373.59 L694.60 375.23 L694.94 376.88 L695.24 378.54 L695.52 380.21 L695.76 381.89 L695.98 383.58 L696.17 385.28 L696.34 386.98 L696.49 388.68 L696.62 390.39 L696.74 392.10 L696.84 393.81 L696.92 395.52 L697.00 397.23 L697.07 398.94 L697.13 400.65 L697.18 402.35 L697.23 404.05 L697.27 405.75 L697.30 407.45 L697.33 409.15 L697.36 410.84 L697.38 412.54 L697.40 414.23 L697.42 415.92 L697.44 417.61 L697.46 419.30 L697.47 420.99 L697.49 422.68 L697.50 424.36 L697.52 426.05 L697.54 427.73 L697.56 429.42 L697.59 431.10 L697.62 432.79 L697.66 434.47 L697.70 436.16 L697.74 437.85 L697.79 439.53 L697.85 441.22 L697.92 442.90 L697.99 444.59 L698.08 446.28 L698.17 447.97" stroke="#ff0000"/>
<path d="M499.55 276.30 L501.72 276.82 L503.90 277.34 L506.08 277.85 L508.28 278.36 L510.48 278.86 L512.68 279.36 L514.89 279.85 L517.11 280.34 L519.33 280.83 L521.56 281.32 L523.79 281.80 L526.02 282.28 L528.26 282.76 L530.51 283.24 L532.76 283.72 L535.01 284.20 L537.26 284.68 L539.52 285.16 L541.78 285.65 L544.04 286.13 L546.30 286.62 L548.57 287.11 L550.84 287.60 L553.10 288.09 L555.37 288.59 L557.64 289.10 L559.91 289.61 L562.18 290.12 L564.45 290.64 L566.72 291.17 L568.99 291.70 L571.25 292.24 L573.52 292.79 L575.78 293.35 L578.04 293.91 L580.30 294.48 L582.56 295.06 L584.81 295.65 L587.06 296.26 L589.31 296.87 L591.55 297.49 L593.79 298.12 L596.03 298.77 L598.26 299.43 L600.49 300.10 L602.71 300.78 L604.92 301.48 L607.13 302.19 L609.34 302.91 L611.54 303.65 L613.73 304.41 L615.91 305.18 L618.09 305.97 L620.26 306.77 L622.42 307.59 L624.58 308.43 L626.73 309.28 L628.86 310.16 L630.99 311.05 L633.11 311.96 L635.23 312.89 L637.33 313.84 L639.42 314.82 L641.50 315.81 L643.57 316.82 L645.64 317.86 L647.69 318.91 L649.72 319.99 L651.75 321.10 L653.77 322.22 L655.77 323.37 L657.76 324.55 L659.74 325.75 L661.70 326.97 L663.65 328.22 L665.59 329.49 L667.50 330.79 L669.40 332.12 L671.28 333.47 L673.14 334.85 L674.97 336.25 L676.78 337.68 L678.57 339.13 L680.34 340.62 L682.07 342.13 L683.78 343.66 L685.46 345.23 L687.11 346.82 L688.74 348.44 L690.32 350.09 L691.88 351.76 L693.40 353.46 L694.89 355.20 L696.34 356.96 L697.75 358.75 L699.12 360.56 L700.46 362.41 L701.75 364.29 L703.01 366.19 L704.24 368.11 L705.44 370.06 L706.60 372.03 L707.74 374.02 L708.84 376.04 L709.93 378.07 L710.99 380.11 L712.03 382.18 L713.05 384.25 L714.05 386.34 L715.04 388.45 L716.01 390.56 L716.96 392.68 L717.91 394.81 L718.85 396.94 L719.78 399.08 L720.71 401.22 L721.63 403.37 L722.55 405.51 L723.47 407.66 L724.40 409.80 L725.32 411.94 L726.25 414.08 L727.19 416.21 L728.14 418.33 L729.09 420.45 L730.06 422.55 L731.05 424.65 L732.05 426.73 L733.07 428.80 L734.10 430.85 L735.16 432.89 L736.25 434.91 L737.35 436.91 L738.49 438.89 L739.65 440.84 L740.84 442.78 L742.06 444.69 L743.32 446.57 L744.61 448.43" stroke="#0000ff" stroke-dasharray="2.2 3.3"/>
<path d="M499.20 276.54 L501.76 277.06 L504.32 277.58 L506.89 278.09 L509.45 278.61 L512.02 279.13 L514.58 279.64 L517.15 280.16 L519.72 280.68 L522.29 281.20 L524.86 281.73 L527.42 282.25 L529.99 282.78 L532.56 283.31 L535.13 283.85 L537.70 284.39 L540.26 284.93 L542.83 285.48 L545.40 286.04 L547.96 286.60 L550.52 287.16 L553.08 287.73 L555.64 288.31 L558.20 288.90 L560.75 289.50 L563.31 290.10 L565.86 290.71 L568.40 291.33 L570.95 291.96 L573.49 292.60 L576.03 293.25 L578.57 293.90 L581.10 294.57 L583.63 295.26 L586.15 295.95 L588.67 296.65 L591.19 297.37 L593.70 298.10 L596.21 298.84 L598.72 299.60 L601.22 300.37 L603.71 301.15 L606.20 301.95 L608.68 302.77 L611.16 303.60 L613.63 304.45 L616.10 305.31 L618.56 306.19 L621.02 307.08 L623.47 308.00 L625.91 308.93 L628.34 309.88 L630.77 310.85 L633.20 311.84 L635.61 312.84 L638.02 313.87 L640.42 314.92 L642.81 315.99 L645.20 317.08 L647.57 318.19 L649.94 319.32 L652.30 320.48 L654.66 321.65 L657.00 322.85 L659.33 324.08 L661.66 325.33 L663.97 326.60 L666.27 327.90 L668.56 329.22 L670.82 330.57 L673.07 331.95 L675.30 333.35 L677.51 334.79 L679.70 336.25 L681.86 337.74 L684.00 339.27 L686.10 340.82 L688.18 342.41 L690.23 344.03 L692.24 345.68 L694.22 347.36 L696.17 349.08 L698.08 350.83 L699.95 352.62 L701.78 354.44 L703.58 356.30 L705.35 358.18 L707.08 360.10 L708.79 362.05 L710.47 364.02 L712.12 366.02 L713.75 368.04 L715.36 370.09 L716.96 372.16 L718.53 374.26 L720.09 376.37 L721.63 378.50 L723.16 380.65 L724.68 382.82 L726.20 385.00 L727.71 387.18 L729.22 389.37 L730.73 391.56 L732.24 393.74 L733.76 395.92 L735.29 398.09 L736.84 400.25 L738.39 402.39 L739.97 404.51 L741.56 406.61 L743.18 408.68 L744.83 410.72 L746.50 412.73 L748.20 414.70 L749.94 416.62 L751.72 418.51 L753.53 420.34 L755.38 422.13 L757.28 423.86 L759.23 425.53 L761.23 427.14 L763.28 428.68 L765.38 430.16 L767.54 431.57 L769.76 432.90 L772.02 434.16 L774.33 435.34 L776.69 436.45 L779.09 437.47 L781.54 438.41 L784.03 439.27 L786.56 440.04 L789.12 440.72 L791.73 441.31 L794.36 441.81 L797.03 442.21 L799.73 442.52 L802.45 442.73 L805.21 442.84 L807.98 442.85" stroke="#00ff00" stroke-dasharray="4.4 2.2"/>
</g>
<path d="M529.94 445.40 v-3.70 M529.94 260.15 v3.70 M548.07 445.40 v-3.70 M548.07 260.15 v3.70 M560.93 445.40 v-3.70 M560.93 260.15 v3.70 M570.91 445.40 v-3.70 M570.91 260.15 v3.70 M579.06 445.40 v-3.70 M579.06 260.15 v3.70 M585.95 445.40 v-3.70 M585.95 260.15 v3.70 M591.92 445.40 v-3.70 M591.92 260.15 v3.70 M597.19 445.40 v-3.70 M597.19 260.15 v3.70 M601.90 445.40 v-7.40 M601.90 260.15 v7.40 M632.89 445.40 v-3.70 M632.89 260.15 v3.70 M651.02 445.40 v-3.70 M651.02 260.15 v3.70 M663.88 445.40 v-3.70 M663.88 260.15 v3.70 M673.86 445.40 v-3.70 M673.86 260.15 v3.70 M682.01 445.40 v-3.70 M682.01 260.15 v3.70 M688.90 445.40 v-3.70 M688.90 260.15 v3.70 M694.87 445.40 v-3.70 M694.87 260.15 v3.70 M700.14 445.40 v-3.70 M700.14 260.15 v3.70 M704.85 445.40 v-7.40 M704.85 260.15 v7.40 M735.84 445.40 v-3.70 M735.84 260.15 v3.70 M753.97 445.40 v-3.70 M753.97 260.15 v3.70 M766.83 445.40 v-3.70 M766.83 260.15 v3.70 M776.81 445.40 v-3.70 M776.81 260.15 v3.70 M784.96 445.40 v-3.70 M784.96 260.15 v3.70 M791.85 445.40 v-3.70 M791.85 260.15 v3.70 M797.82 445.40 v-3.70 M797.82 260.15 v3.70 M803.09 445.40 v-3.70 M803.09 260.15 v3.70 M498.95 286.05 h3.70 M807.80 286.05 h-3.70 M498.95 279.52 h3.70 M807.80 279.52 h-3.70 M498.95 274.89 h3.70 M807.80 274.89 h-3.70 M498.95 271.30 h3.70 M807.80 271.30 h-3.70 M498.95 268.37 h3.70 M807.80 268.37 h-3.70 M498.95 265.89 h3.70 M807.80 265.89 h-3.70 M498.95 263.74 h3.70 M807.80 263.74 h-3.70 M498.95 261.85 h3.70 M807.80 261.85 h-3.70 M498.95 297.20 h7.40 M807.80 297.20 h-7.40 M498.95 323.10 h3.70 M807.80 323.10 h-3.70 M498.95 316.57 h3.70 M807.80 316.57 h-3.70 M498.95 311.94 h3.70 M807.80 311.94 h-3.70 M498.95 308.35 h3.70 M807.80 308.35 h-3.70 M498.95 305.42 h3.70 M807.80 305.42 h-3.70 M498.95 302.94 h3.70 M807.80 302.94 h-3.70 M498.95 300.79 h3.70 M807.80 300.79 h-3.70 M498.95 298.90 h3.70 M807.80 298.90 h-3.70 M498.95 334.25 h7.40 M807.80 334.25 h-7.40 M498.95 360.15 h3.70 M807.80 360.15 h-3.70 M498.95 353.62 h3.70 M807.80 353.62 h-3.70 M498.95 348.99 h3.70 M807.80 348.99 h-3.70 M498.95 345.40 h3.70 M807.80 345.40 h-3.70 M498.95 342.47 h3.70 M807.80 342.47 h-3.70 M498.95 339.99 h3.70 M807.80 339.99 h-3.70 M498.95 337.84 h3.70 M807.80 337.84 h-3.70 M498.95 335.95 h3.70 M807.80 335.95 h-3.70 M498.95 371.30 h7.40 M807.80 371.30 h-7.40 M498.95 397.20 h3.70 M807.80 397.20 h-3.70 M498.95 390.67 h3.70 M807.80 390.67 h-3.70 M498.95 386.04 h3.70 M807.80 386.04 h-3.70 M498.95 382.45 h3.70 M807.80 382.45 h-3.70 M498.95 379.52 h3.70 M807.80 379.52 h-3.70 M498.95 377.04 h3.70 M807.80 377.04 h-3.70 M498.95 374.89 h3.70 M807.80 374.89 h-3.70 M498.95 373.00 h3.70 M807.80 373.00 h-3.70 M498.95 408.35 h7.40 M807.80 408.35 h-7.40 M498.95 434.25 h3.70 M807.80 434.25 h-3.70 M498.95 427.72 h3.70 M807.80 427.72 h-3.70 M498.95 423.09 h3.70 M807.80 423.09 h-3.70 M498.95 419.50 h3.70 M807.80 419.50 h-3.70 M498.95 416.57 h3.70 M807.80 416.57 h-3.70 M498.95 414.09 h3.70 M807.80 414.09 h-3.70 M498.95 411.94 h3.70 M807.80 411.94 h-3.70 M498.95 410.05 h3.70 M807.80 410.05 h-3.70" stroke="#000" stroke-width="1.2" fill="none"/>
<rect x="498.95" y="260.15" width="308.85" height="185.25" fill="none" stroke="#000" stroke-width="1.35"/>
<text transform="translate(489.15 267.05) scale(1 1.075)" font-size="15.50" text-anchor="end">10<tspan font-size="12.09" dy="-7.21">1</tspan></text>
<text transform="translate(489.15 304.10) scale(1 1.075)" font-size="15.50" text-anchor="end">10<tspan font-size="12.09" dy="-7.21">0</tspan></text>
<text transform="translate(489.15 341.15) scale(1 1.075)" font-size="15.50" text-anchor="end">10<tspan font-size="12.09" dy="-7.21">-1</tspan></text>
<text transform="translate(489.15 378.20) scale(1 1.075)" font-size="15.50" text-anchor="end">10<tspan font-size="12.09" dy="-7.21">-2</tspan></text>
<text transform="translate(489.15 415.25) scale(1 1.075)" font-size="15.50" text-anchor="end">10<tspan font-size="12.09" dy="-7.21">-3</tspan></text>
<text transform="translate(489.15 452.30) scale(1 1.075)" font-size="15.50" text-anchor="end">10<tspan font-size="12.09" dy="-7.21">-4</tspan></text>
<text transform="translate(498.95 468.10) scale(1 1.075)" font-size="15.50" text-anchor="middle">10<tspan font-size="12.09" dy="-7.21">18</tspan></text>
<text transform="translate(601.90 468.10) scale(1 1.075)" font-size="15.50" text-anchor="middle">10<tspan font-size="12.09" dy="-7.21">19</tspan></text>
<text transform="translate(704.85 468.10) scale(1 1.075)" font-size="15.50" text-anchor="middle">10<tspan font-size="12.09" dy="-7.21">20</tspan></text>
<text transform="translate(807.80 468.10) scale(1 1.075)" font-size="15.50" text-anchor="middle">10<tspan font-size="12.09" dy="-7.21">21</tspan></text>
<text transform="translate(653.38 488.20) scale(1 1.030)" font-size="15.50" text-anchor="middle">E<tspan font-size="12.09" dy="4.37">A</tspan><tspan dy="-4.37"> (eV)</tspan></text>
<text transform="translate(456.10 352.77) rotate(-90) scale(1 1.000)" font-size="15.50" text-anchor="middle">red shift</text>
<text transform="translate(529.95 428.15) scale(1 1.030)" font-size="15.50">Calcium A=40</text>
<text transform="translate(735.75 277.40) scale(1 1.030)" font-size="15.50" text-anchor="end">z<tspan font-size="12.09" dy="5.15">min</tspan></text>
<path d="M744.95 274.90 H789.15" stroke="#ff0000" stroke-width="2.5" fill="none"/>
<text transform="translate(735.75 292.85) scale(1 1.030)" font-size="15.50" text-anchor="end">z<tspan font-size="12.09" dy="5.15">A+1</tspan></text>
<path d="M744.95 290.35 H785.95" stroke="#0000ff" stroke-width="2.5" stroke-dasharray="2.2 3.3" fill="none"/>
<text transform="translate(735.75 307.10) scale(1 1.030)" font-size="15.50" text-anchor="end">z<tspan font-size="12.09" dy="5.15">A</tspan><tspan font-size="10.23" dy="3.40">0</tspan></text>
<path d="M744.95 305.80 H789.15" stroke="#00ff00" stroke-width="2.5" stroke-dasharray="4.4 2.2" fill="none"/>
</g>
</svg>
</body></html>
